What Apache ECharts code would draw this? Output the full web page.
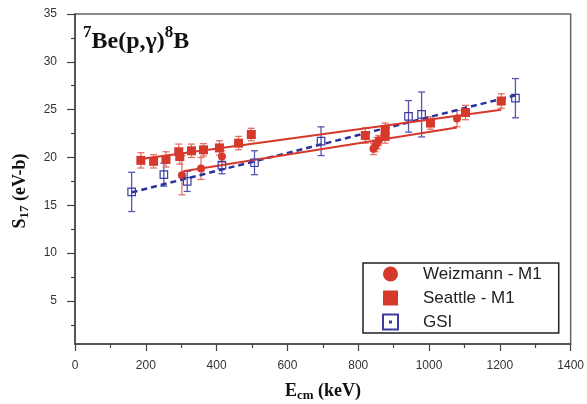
<!DOCTYPE html>
<html><head><meta charset="utf-8">
<script src="https://cdn.jsdelivr.net/npm/echarts@6/dist/echarts.min.js"></script>
<style>html,body{margin:0;padding:0;background:#fff}#c{width:587px;height:404px}</style>
</head><body><div id="c"></div>
<script>
const xTicks = [0, 200, 400, 600, 800, 1000, 1200, 1400];
const yTicks = [5, 10, 15, 20, 25, 30, 35];
const yMinorTicks = [2.5, 7.5, 12.5, 17.5, 22.5, 27.5, 32.5];

const weizX = [302, 356, 415, 843, 848, 853, 858, 1079];
const weizY = [18.15, 18.85, 20.1, 20.9, 21.2, 21.5, 21.8, 24.07];
const weizErr = [2.05, 1.15, 0.6, 0.6, 0.6, 0.6, 0.5, 0.85];

const seattleX = [186, 222, 257, 293, 296, 329, 363, 408, 462, 498, 820, 876, 876, 1004, 1103, 1204];
const seattleY = [19.7, 19.6, 19.8, 20.6, 20.1, 20.7, 20.8, 21.0, 21.5, 22.4, 22.3, 22.9, 22.2, 23.6, 24.7, 25.9];
const seattleErr = [0.8, 0.7, 0.8, 0.8, 0.8, 0.7, 0.65, 0.75, 0.7, 0.65, 0.8, 0.7, 0.7, 0.65, 0.75, 0.75];

const gsiX = [160, 251, 317, 415, 507, 695, 942, 979, 1244];
const gsiY = [16.4, 18.2, 17.5, 19.2, 19.45, 21.7, 24.3, 24.5, 26.2];
const gsiErr = [2.05, 1.2, 1.05, 0.9, 1.25, 1.5, 1.65, 2.35, 2.05];

const weizFitX = [306, 1079];
const weizFitY = [18.55, 23.13];
const seattleFitX = [186, 1204];
const seattleFitY = [19.85, 25.0];
const gsiFitX = [160, 1244];
const gsiFitY = [16.35, 26.5];

const RED = '#d7382c';
const RED_ERR = '#e2736b';
const BLUE = '#3b3ba3';
const BLUE_ERR = '#5656b0';
const BLUE_LINE = '#2b319b';

function pts(xs, ys) { return xs.map((x, i) => [x, ys[i]]); }
function errs(xs, ys, es) { return xs.map((x, i) => [x, ys[i] - es[i], ys[i] + es[i]]); }

function errRender(color, cap) {
  return function (params, api) {
    const x = api.value(0), lo = api.value(1), hi = api.value(2);
    const a = api.coord([x, lo]), b = api.coord([x, hi]);
    const st = { stroke: color, lineWidth: 1.3 };
    return {
      type: 'group',
      children: [
        { type: 'line', shape: { x1: a[0], y1: a[1], x2: b[0], y2: b[1] }, style: st },
        { type: 'line', shape: { x1: a[0] - cap, y1: a[1], x2: a[0] + cap, y2: a[1] }, style: st },
        { type: 'line', shape: { x1: b[0] - cap, y1: b[1], x2: b[0] + cap, y2: b[1] }, style: st }
      ]
    };
  };
}

const chart = echarts.init(document.getElementById('c'), null, { renderer: 'canvas' });
const axisCol = '#444';
chart.setOption({
  animation: false,
  backgroundColor: '#fff',
  grid: { left: 75, right: 16, top: 14, bottom: 60, show: true, borderColor: '#666', borderWidth: 1.5, backgroundColor: 'transparent' },
  xAxis: {
    type: 'value', min: xTicks[0], max: xTicks[xTicks.length - 1], interval: 200,
    axisLine: { lineStyle: { color: axisCol, width: 1.5 } },
    axisTick: { show: true, length: 7, lineStyle: { color: axisCol, width: 1.2 } },
    minorTick: { show: true, splitNumber: 2, length: 4, lineStyle: { color: axisCol, width: 1.2 } },
    axisLabel: { color: '#333', fontSize: 12, fontFamily: 'Liberation Sans, Arial', margin: 16, formatter: v => String(v) },
    splitLine: { show: false }
  },
  yAxis: [{
    type: 'value', min: 0.5, max: 35, position: 'left',
    axisLine: { lineStyle: { color: axisCol, width: 1.5 } },
    axisTick: { show: true, length: 8, customValues: yTicks, lineStyle: { color: axisCol, width: 1.2 } },
    axisLabel: { color: '#333', fontSize: 12, fontFamily: 'Liberation Sans, Arial', margin: 18, customValues: yTicks, formatter: v => String(v) },
    splitLine: { show: false }
  }, {
    type: 'value', min: 0.5, max: 35, position: 'left',
    axisLine: { show: false },
    axisTick: { show: true, length: 4, customValues: yMinorTicks, lineStyle: { color: axisCol, width: 1.2 } },
    axisLabel: { show: false, customValues: yMinorTicks },
    splitLine: { show: false }
  }],
  legend: {
    orient: 'vertical', left: 363, top: 263,
    padding: [1, 17, 1, 19], itemGap: 4, itemWidth: 15, itemHeight: 15,
    backgroundColor: '#fff', borderColor: '#222', borderWidth: 1.5, borderRadius: 0,
    selectedMode: false,
    textStyle: { fontSize: 17, fontFamily: 'Liberation Sans, Arial', color: '#222', padding: [0, 0, 0, 20], lineHeight: 20 },
    data: [
      { name: 'Weizmann - M1', icon: 'circle' },
      { name: 'Seattle - M1', icon: 'rect' },
      { name: 'GSI', icon: 'path://M0,0L14,0L14,14L0,14Z M6.5,6.5L7.5,6.5L7.5,7.5L6.5,7.5Z' }
    ]
  },
  series: [
    { type: 'custom', name: 'gsiErr', renderItem: errRender(BLUE_ERR, 3.5), data: errs(gsiX, gsiY, gsiErr), encode: { x: 0, y: [1, 2] }, z: 1 },
    { type: 'custom', name: 'weizErr', renderItem: errRender(RED_ERR, 3.5), data: errs(weizX, weizY, weizErr), encode: { x: 0, y: [1, 2] }, z: 1 },
    { type: 'custom', name: 'seattleErr', renderItem: errRender(RED_ERR, 3.5), data: errs(seattleX, seattleY, seattleErr), encode: { x: 0, y: [1, 2] }, z: 1 },
    { type: 'line', name: 'gsiFit', data: pts(gsiFitX, gsiFitY), showSymbol: false, symbol: 'none', lineStyle: { color: BLUE_LINE, width: 2.5, type: [6, 4] }, z: 3 },
    { type: 'line', name: 'weizFit', data: pts(weizFitX, weizFitY), showSymbol: false, symbol: 'none', lineStyle: { color: RED, width: 2 }, z: 3 },
    { type: 'line', name: 'seattleFit', data: pts(seattleFitX, seattleFitY), showSymbol: false, symbol: 'none', lineStyle: { color: RED, width: 2 }, z: 3 },
    { type: 'scatter', name: 'Weizmann - M1', data: pts(weizX, weizY), symbol: 'circle', symbolSize: 8, itemStyle: { color: RED, opacity: 1 }, z: 4 },
    { type: 'scatter', name: 'Seattle - M1', data: pts(seattleX, seattleY), symbol: 'rect', symbolSize: 9, itemStyle: { color: RED, opacity: 1 }, z: 4 },
    { type: 'scatter', name: 'GSI', data: pts(gsiX, gsiY), symbol: 'rect', symbolSize: 7.5, itemStyle: { color: 'rgba(255,255,255,0)', borderColor: BLUE, borderWidth: 1.2, opacity: 1 }, z: 4 }
  ],
  graphic: [
    {
      type: 'text', left: 83, top: 24, z: 10,
      style: {
        text: '{s|7}{b|Be(p,γ)}{s|8}{b|B}',
        rich: {
          s: { fontSize: 17, fontWeight: 'bold', fontFamily: 'Liberation Serif, Times New Roman', fill: '#111', verticalAlign: 'top', lineHeight: 30 },
          b: { fontSize: 24, fontWeight: 'bold', fontFamily: 'Liberation Serif, Times New Roman', fill: '#111', verticalAlign: 'bottom', lineHeight: 30 }
        }
      }
    },
    {
      type: 'text', x: 20, y: 191, rotation: Math.PI / 2, z: 10,
      style: {
        text: '{b|S}{sub|17}{b| (eV-b)}', align: 'center', verticalAlign: 'middle',
        rich: {
          b: { fontSize: 18, fontWeight: 'bold', fontFamily: 'Liberation Serif, Times New Roman', fill: '#111', lineHeight: 22, verticalAlign: 'middle' },
          sub: { fontSize: 13, fontWeight: 'bold', fontFamily: 'Liberation Serif, Times New Roman', fill: '#111', lineHeight: 22, verticalAlign: 'bottom', padding: [8, 0, 0, 0] }
        }
      }
    },
    {
      type: 'text', x: 323, y: 391, z: 10,
      style: {
        text: '{b|E}{sub|cm}{b| (keV)}', align: 'center', verticalAlign: 'middle',
        rich: {
          b: { fontSize: 18, fontWeight: 'bold', fontFamily: 'Liberation Serif, Times New Roman', fill: '#111', lineHeight: 22, verticalAlign: 'middle' },
          sub: { fontSize: 13, fontWeight: 'bold', fontFamily: 'Liberation Serif, Times New Roman', fill: '#111', lineHeight: 22, verticalAlign: 'bottom', padding: [8, 0, 0, 0] }
        }
      }
    }
  ]
});
</script></body></html>
